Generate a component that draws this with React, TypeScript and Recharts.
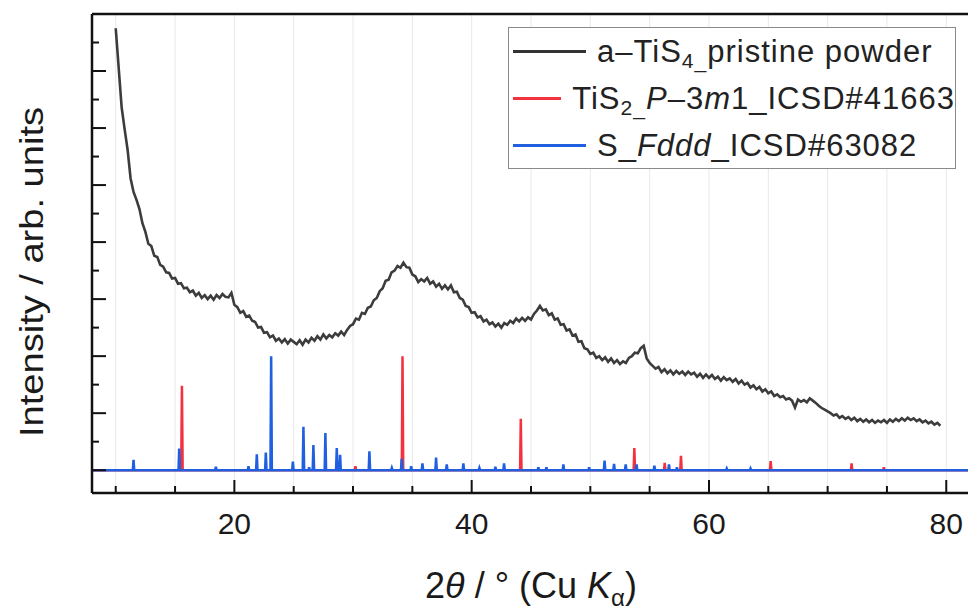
import React from 'react';
import { ComposedChart, Line, XAxis, YAxis, CartesianGrid, Legend } from 'recharts';

// amorphous TiS4 pattern, sampled every 0.25 deg from 10 deg
const ANGLE_START = 10;
const ANGLE_STEP = 0.25;
const pristineIntensity = [
	7.75, 7.05, 6.36, 5.98, 5.62, 5.12, 4.88, 4.74,
	4.58, 4.33, 4.18, 3.97, 3.93, 3.76, 3.74, 3.6,
	3.57, 3.47, 3.46, 3.36, 3.37, 3.27, 3.28, 3.19,
	3.2, 3.12, 3.15, 3.06, 3.11, 3.02, 3.07, 3.0,
	3.06, 2.99, 3.07, 3.02, 3.09, 3.04, 3.03, 3.11,
	2.9, 2.86, 2.76, 2.79, 2.69, 2.71, 2.62, 2.6,
	2.5, 2.51, 2.41, 2.42, 2.33, 2.36, 2.27, 2.31,
	2.24, 2.3, 2.22, 2.29, 2.25, 2.21, 2.28, 2.2,
	2.29, 2.24, 2.32, 2.27, 2.35, 2.29, 2.38, 2.31,
	2.37, 2.33, 2.4, 2.36, 2.43, 2.37, 2.46, 2.53,
	2.56, 2.66, 2.64, 2.76, 2.74, 2.85, 2.87, 2.98,
	3.02, 3.14, 3.19, 3.32, 3.34, 3.47, 3.5, 3.58,
	3.55, 3.64, 3.56, 3.55, 3.43, 3.4, 3.3, 3.35,
	3.31, 3.37, 3.27, 3.31, 3.22, 3.27, 3.18, 3.24,
	3.17, 3.24, 3.12, 3.13, 3.02, 2.99, 2.88, 2.86,
	2.76, 2.77, 2.68, 2.7, 2.61, 2.64, 2.56, 2.59,
	2.52, 2.57, 2.5, 2.58, 2.55, 2.62, 2.58, 2.66,
	2.61, 2.67, 2.62, 2.68, 2.64, 2.74, 2.8, 2.88,
	2.8, 2.82, 2.72, 2.75, 2.64, 2.66, 2.55, 2.56,
	2.45, 2.47, 2.36, 2.38, 2.25, 2.26, 2.14, 2.12,
	2.04, 2.06, 1.97, 2.0, 1.93, 1.98, 1.9, 1.96,
	1.88, 1.93, 1.86, 1.91, 1.88, 1.97, 2.0, 2.06,
	2.05, 2.14, 2.18, 1.96, 1.88, 1.83, 1.78, 1.81,
	1.72, 1.77, 1.7, 1.75, 1.68, 1.74, 1.69, 1.73,
	1.67, 1.73, 1.68, 1.71, 1.64, 1.69, 1.62, 1.68,
	1.62, 1.67, 1.6, 1.64, 1.57, 1.63, 1.58, 1.61,
	1.55, 1.6, 1.52, 1.57, 1.5, 1.53, 1.45, 1.49,
	1.42, 1.46, 1.38, 1.42, 1.35, 1.38, 1.3, 1.33,
	1.28, 1.3, 1.24, 1.26, 1.22, 1.1, 1.24, 1.2,
	1.23, 1.19, 1.26, 1.22, 1.18, 1.13, 1.09, 1.06,
	1.03, 1.0, 0.96, 0.98, 0.92, 0.95, 0.9, 0.93,
	0.88, 0.92, 0.86, 0.9, 0.85, 0.89, 0.84, 0.88,
	0.83, 0.87, 0.84, 0.88, 0.83, 0.89, 0.85, 0.9,
	0.86, 0.91, 0.87, 0.92, 0.88, 0.91, 0.86, 0.89,
	0.84, 0.87, 0.82, 0.85, 0.8, 0.83, 0.78,
];

// reference stick patterns
const tis2Positions = [15.58, 30.2, 34.17, 44.14, 53.71, 56.27, 57.64, 65.2, 72.02, 74.74];
const tis2Heights = [1.48, 0.07, 2.0, 0.9, 0.39, 0.13, 0.25, 0.16, 0.12, 0.05];

const sulfurPositions = [
	11.5, 15.35, 18.44, 21.19, 21.89, 22.65, 23.1, 24.93, 25.82, 26.3, 26.66, 27.67, 28.63, 28.91,
	31.38, 33.27, 34.1, 34.9, 35.85, 37.0, 37.9, 39.3, 40.65, 42.0, 42.73, 45.62, 46.3, 47.73,
	49.9, 51.2, 52.0, 52.98, 53.9, 55.4, 56.63, 57.3, 61.5, 63.5,
];
const sulfurHeights = [
	0.18, 0.38, 0.06, 0.07, 0.28, 0.31, 2.0, 0.15, 0.76, 0.05, 0.44, 0.65, 0.39, 0.27,
	0.33, 0.04, 0.2, 0.07, 0.12, 0.22, 0.1, 0.12, 0.04, 0.06, 0.12, 0.05, 0.05, 0.1,
	0.05, 0.17, 0.11, 0.1, 0.1, 0.08, 0.1, 0.05, 0.03, 0.03,
];

const xTicks = [10, 15, 20, 25, 30, 35, 40, 45, 50, 55, 60, 65, 70, 75, 80];
const xLabelTicks = [20, 40, 60, 80];
const yTicks = [0, 0.5, 1, 1.5, 2, 2.5, 3, 3.5, 4, 4.5, 5, 5.5, 6, 6.5, 7, 7.5];

const FONT = '"Liberation Sans", Arial, Helvetica, sans-serif';
const W = 980;
const H = 612;
// axes take 1px each (an axis of size 0 is not drawn)
const MARGIN = { top: 13, right: 9, bottom: 118, left: 91 };
const PLOT_LEFT = MARGIN.left + 1;
const PLOT_RIGHT = W - MARGIN.right - 1;
const PLOT_TOP = MARGIN.top + 1;
const PLOT_BOTTOM = H - MARGIN.bottom - 1;
const FRAME = { stroke: '#111', strokeWidth: 2.5 };

const pristineData = pristineIntensity.map((v, i) => ({ x: ANGLE_START + i * ANGLE_STEP, y: v }));

const buildSticks = (positions: number[], heights: number[]) => {
	const pts = [{ x: 8, y: 0 }];
	positions.forEach((p, i) => {
		pts.push({ x: p - 0.06, y: 0 }, { x: p, y: heights[i] }, { x: p + 0.06, y: 0 });
	});
	pts.push({ x: 82, y: 0 });
	return pts;
};

const tis2Data = buildSticks(tis2Positions, tis2Heights);
const sulfurData = buildSticks(sulfurPositions, sulfurHeights);

const BottomTick = (props: any) => {
	const { x, payload } = props;
	const major = payload.value % 20 === 0;
	return (
		<g>
			<line x1={x} x2={x} y1={PLOT_BOTTOM} y2={PLOT_BOTTOM - (major ? 13 : 7)} stroke="#111" strokeWidth={2} />
			{xLabelTicks.includes(payload.value) && (
				<text x={x} y={534} textAnchor="middle" fontSize={30} fill="#1a1a1a" fontFamily={FONT}>
					{payload.value}
				</text>
			)}
		</g>
	);
};

const TopTick = (props: any) => {
	const { x, payload } = props;
	const major = payload.value % 20 === 0;
	return <line x1={x} x2={x} y1={PLOT_TOP} y2={PLOT_TOP + (major ? 13 : 7)} stroke="#111" strokeWidth={2} />;
};

const LeftTick = (props: any) => {
	const { y, payload } = props;
	const major = Number.isInteger(payload.value);
	return <line x1={PLOT_LEFT} x2={PLOT_LEFT + (major ? 14 : 7)} y1={y} y2={y} stroke="#111" strokeWidth={2} />;
};

const RightTick = (props: any) => {
	const { y, payload } = props;
	const major = Number.isInteger(payload.value);
	return <line x1={PLOT_RIGHT} x2={PLOT_RIGHT - (major ? 14 : 7)} y1={y} y2={y} stroke="#111" strokeWidth={2} />;
};

const renderXTitle = () => (
	<text x={531} y={598} textAnchor="middle" fontSize={36} fill="#1a1a1a" fontFamily={FONT}>
		<tspan>2</tspan>
		<tspan fontStyle="italic">θ</tspan>
		<tspan> / ° (Cu </tspan>
		<tspan fontStyle="italic">K</tspan>
		<tspan fontSize={24} dy={8}>α</tspan>
		<tspan dy={-8}>)</tspan>
	</text>
);

const renderYTitle = () => (
	<text
		transform="translate(43,272) rotate(-90)"
		textAnchor="middle"
		fontSize={33}
		fill="#1a1a1a"
		fontFamily={FONT}
		textLength={330}
		lengthAdjust="spacingAndGlyphs"
	>
		Intensity / arb. units
	</text>
);

const subStyle = { fontSize: '0.68em', verticalAlign: '-0.3em', lineHeight: 0 };

const legendRows = [
	{
		color: '#333',
		label: (
			<>
				a–TiS<span style={subStyle}>4_</span>pristine powder
			</>
		),
	},
	{
		color: '#f2323e',
		label: (
			<>
				TiS<span style={subStyle}>2_</span>
				<i>P</i>–3<i>m</i>1_ICSD#41663
			</>
		),
	},
	{
		color: '#1f5fe0',
		label: (
			<>
				S_<i>Fddd</i>_ICSD#63082
			</>
		),
	},
];

const renderLegend = () => (
	<div
		style={{
			boxSizing: 'border-box',
			width: 448,
			height: 142,
			border: '1.5px solid #8a8a8a',
			background: '#fff',
			fontFamily: FONT,
			fontSize: 31,
			letterSpacing: 1,
			color: '#222',
		}}
	>
		{legendRows.map((row, i) => (
			<div key={i} style={{ display: 'flex', alignItems: 'center', height: 47 }}>
				<div style={{ marginLeft: 4, width: 73, height: 2.5, background: row.color }} />
				<span style={{ marginLeft: 11, whiteSpace: 'nowrap', lineHeight: '47px' }}>{row.label}</span>
			</div>
		))}
	</div>
);

export default function App() {
	return (
		<div style={{ position: 'absolute', left: 0, top: 0, width: 968, height: 612, overflow: 'hidden', background: '#fff' }}>
			<ComposedChart width={W} height={H} margin={MARGIN} style={{ fontFamily: FONT }}>
				<CartesianGrid xAxisId="b" yAxisId="l" horizontal={false} stroke="#e8e8e8" strokeWidth={1} />
				<XAxis
					xAxisId="b"
					dataKey="x"
					type="number"
					domain={[8, 82]}
					ticks={xTicks}
					interval={0}
					height={1}
					allowDataOverflow
					axisLine={FRAME}
					tickLine={false}
					tick={BottomTick}
					label={renderXTitle}
				/>
				<XAxis
					xAxisId="t"
					orientation="top"
					type="number"
					domain={[8, 82]}
					ticks={xTicks}
					interval={0}
					height={1}
					axisLine={FRAME}
					tickLine={false}
					tick={TopTick}
				/>
				<YAxis
					yAxisId="l"
					type="number"
					domain={[-0.4, 8]}
					ticks={yTicks}
					interval={0}
					width={1}
					allowDataOverflow
					axisLine={FRAME}
					tickLine={false}
					tick={LeftTick}
					label={renderYTitle}
				/>
				<YAxis
					yAxisId="r"
					orientation="right"
					type="number"
					domain={[-0.4, 8]}
					ticks={yTicks}
					interval={0}
					width={1}
					axisLine={FRAME}
					tickLine={false}
					tick={RightTick}
				/>
				<Line
					xAxisId="b"
					yAxisId="l"
					data={pristineData}
					dataKey="y"
					type="linear"
					stroke="#3c3c3c"
					strokeWidth={2.6}
					dot={false}
					activeDot={false}
					isAnimationActive={false}
				/>
				<Line
					xAxisId="b"
					yAxisId="l"
					data={tis2Data}
					dataKey="y"
					type="linear"
					stroke="#f2323e"
					strokeWidth={2.5}
					dot={false}
					activeDot={false}
					isAnimationActive={false}
				/>
				<Line
					xAxisId="b"
					yAxisId="l"
					data={sulfurData}
					dataKey="y"
					type="linear"
					stroke="#1f5fe0"
					strokeWidth={2.5}
					dot={false}
					activeDot={false}
					isAnimationActive={false}
				/>
				<Legend
					layout="horizontal"
					verticalAlign="middle"
					align="center"
					content={renderLegend}
					wrapperStyle={{ left: 508, top: 27, width: 448, height: 142 }}
				/>
			</ComposedChart>
		</div>
	);
}
